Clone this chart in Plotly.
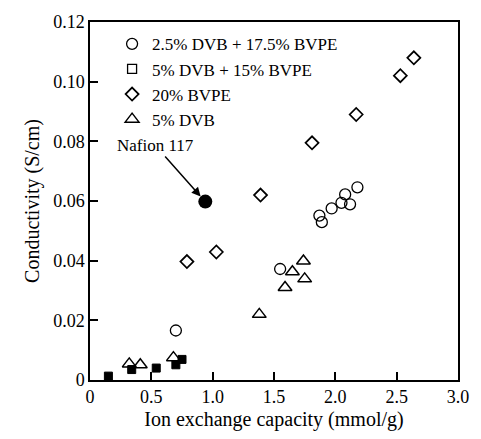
import plotly.graph_objects as go

# Data
circ_x = [0.70, 1.55, 1.87, 1.89, 1.97, 2.05, 2.08, 2.12, 2.18]
circ_y = [0.0166, 0.0372, 0.0551, 0.0529, 0.0575, 0.0594, 0.0622, 0.0589, 0.0646]

sq_x = [0.15, 0.34, 0.54, 0.70, 0.75]
sq_y = [0.0013, 0.0035, 0.0040, 0.0051, 0.0069]

dia_x = [0.79, 1.03, 1.39, 1.81, 2.17, 2.53, 2.64]
dia_y = [0.0397, 0.0429, 0.0620, 0.0795, 0.0890, 0.1020, 0.1080]

tri_x = [0.32, 0.41, 0.68, 1.38, 1.59, 1.65, 1.74, 1.75]
tri_y = [0.0054, 0.0051, 0.0075, 0.0220, 0.0310, 0.0363, 0.0399, 0.0339]

nafion_x = [0.94]
nafion_y = [0.0598]

names = ["2.5% DVB + 17.5% BVPE", "5% DVB + 15% BVPE", "20% BVPE", "5% DVB"]

x_ticks = [0, 0.5, 1.0, 1.5, 2.0, 2.5, 3.0]
x_tick_text = ["0", "0.5", "1.0", "1.5", "2.0", "2.5", "3.0"]
y_ticks = [0, 0.02, 0.04, 0.06, 0.08, 0.10, 0.12]
y_tick_text = ["0", "0.02", "0.04", "0.06", "0.08", "0.10", "0.12"]

FONT = "Liberation Serif, Times New Roman, serif"

fig = go.Figure()
fig.add_trace(go.Scatter(x=circ_x, y=circ_y, mode="markers", name=names[0],
                         marker=dict(symbol="circle-open", size=11, color="black",
                                     line=dict(width=1.3, color="black"))))
fig.add_trace(go.Scatter(x=sq_x, y=sq_y, mode="markers", name=names[1], showlegend=False,
                         marker=dict(symbol="square", size=8, color="black",
                                     line=dict(width=1, color="black"))))
# legend-only open square (the legend shows an open square)
fig.add_trace(go.Scatter(x=[None], y=[None], mode="markers", name=names[1],
                         marker=dict(symbol="square-open", size=9, color="black",
                                     line=dict(width=1.3, color="black"))))
fig.add_trace(go.Scatter(x=dia_x, y=dia_y, mode="markers", name=names[2],
                         marker=dict(symbol="diamond-open", size=10, color="black",
                                     line=dict(width=1.7, color="black"))))
fig.add_trace(go.Scatter(x=tri_x, y=tri_y, mode="markers", name=names[3],
                         marker=dict(symbol="triangle-up-open", size=12, color="black",
                                     line=dict(width=1.5, color="black"))))
fig.add_trace(go.Scatter(x=nafion_x, y=nafion_y, mode="markers", showlegend=False,
                         marker=dict(symbol="circle", size=14, color="black")))

fig.add_annotation(x=nafion_x[0], y=nafion_y[0], text="Nafion 117", showarrow=True,
                   ax=-50, ay=-56, arrowhead=2, arrowsize=1.2, arrowwidth=1.5,
                   arrowcolor="black", standoff=7,
                   font=dict(family=FONT, size=17, color="black"))

fig.update_layout(
    width=481, height=439,
    margin=dict(l=90, r=19, t=16, b=55),
    paper_bgcolor="white", plot_bgcolor="white",
    font=dict(family=FONT, size=18, color="black"),
    showlegend=True,
    legend=dict(x=0.06, y=0.988, xanchor="left", yanchor="top",
                bgcolor="rgba(0,0,0,0)", font=dict(family=FONT, size=17),
                tracegroupgap=0, itemwidth=30),
    xaxis=dict(range=[0, 3.0], tickvals=x_ticks, ticktext=x_tick_text,
               ticks="inside", ticklen=8, tickwidth=2, tickcolor="black",
               showline=True, linecolor="black", linewidth=1.5, mirror=True,
               showgrid=False, zeroline=False,
               title=dict(text="Ion exchange capacity (mmol/g)", font=dict(size=20), standoff=6),
               tickfont=dict(size=18)),
    yaxis=dict(range=[0, 0.12], tickvals=y_ticks, ticktext=y_tick_text,
               ticks="inside", ticklen=8, tickwidth=2, tickcolor="black",
               showline=True, linecolor="black", linewidth=1.5, mirror=True,
               showgrid=False, zeroline=False,
               title=dict(text="Conductivity (S/cm)", font=dict(size=20), standoff=8),
               tickfont=dict(size=18)),
)

fig.write_html("out.html")
